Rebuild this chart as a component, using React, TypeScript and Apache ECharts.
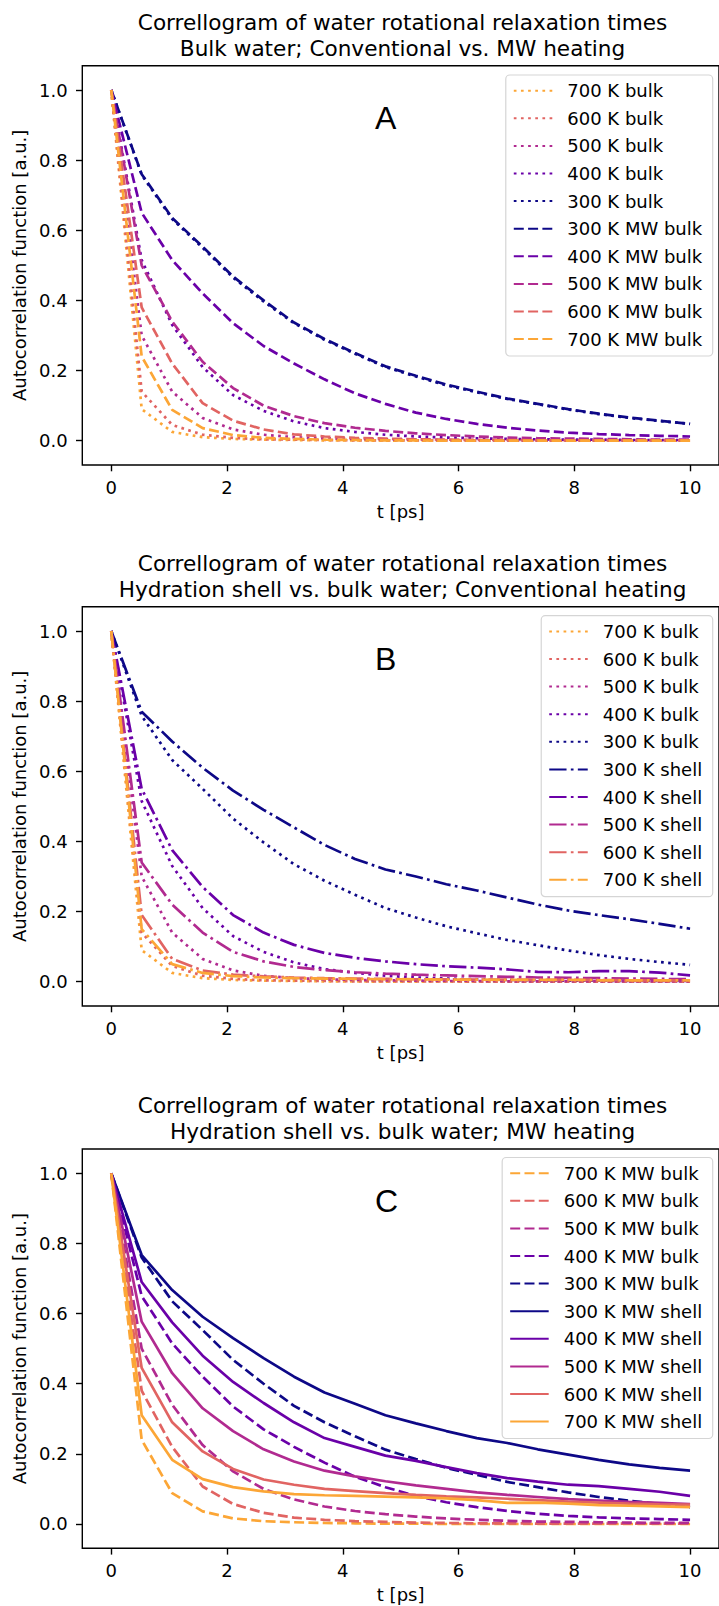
import React, { useEffect, useRef } from "react";
import * as echarts from "echarts";

// time points (ps)
const T = [0, 0.526, 1.053, 1.579, 2.105, 2.632, 3.158, 3.684, 4.211, 4.737, 5.263, 5.789, 6.316, 6.842, 7.368, 7.895, 8.421, 8.947, 9.474, 10];

// conventional heating, bulk water
const bulk300 = [1, 0.758, 0.632, 0.55, 0.465, 0.397, 0.335, 0.288, 0.248, 0.21, 0.183, 0.158, 0.138, 0.119, 0.104, 0.089, 0.076, 0.065, 0.056, 0.048];
const bulk400 = [1, 0.515, 0.33, 0.21, 0.13, 0.085, 0.055, 0.036, 0.025, 0.017, 0.012, 0.009, 0.007, 0.005, 0.004, 0.003, 0.003, 0.002, 0.002, 0.002];
const bulk500 = [1, 0.3, 0.14, 0.065, 0.032, 0.017, 0.01, 0.007, 0.005, 0.004, 0.003, 0.002, 0.002, 0.001, 0.001, 0.001, 0.001, 0.001, 0.001, 0.001];
const bulk600 = [1, 0.14, 0.045, 0.017, 0.008, 0.004, 0.003, 0.002, 0.001, 0.001, 0.001, 0.001, 0, 0, 0, 0, 0, 0, 0, 0];
const bulk700 = [1, 0.09, 0.025, 0.01, 0.005, 0.003, 0.002, 0.001, 0.001, 0, 0, 0, 0, 0, 0, 0, 0, 0, 0, 0];

// MW heating, bulk water
const mwBulk300 = [1, 0.76, 0.635, 0.553, 0.468, 0.4, 0.337, 0.29, 0.25, 0.212, 0.185, 0.16, 0.14, 0.12, 0.105, 0.09, 0.077, 0.066, 0.057, 0.048];
const mwBulk400 = [1, 0.65, 0.515, 0.42, 0.335, 0.27, 0.22, 0.175, 0.135, 0.105, 0.08, 0.062, 0.048, 0.037, 0.029, 0.023, 0.019, 0.016, 0.014, 0.012];
const mwBulk500 = [1, 0.5, 0.34, 0.225, 0.15, 0.1, 0.07, 0.05, 0.037, 0.028, 0.021, 0.016, 0.012, 0.009, 0.007, 0.006, 0.005, 0.004, 0.003, 0.003];
const mwBulk600 = [1, 0.38, 0.22, 0.107, 0.057, 0.032, 0.018, 0.012, 0.008, 0.006, 0.004, 0.003, 0.002, 0.002, 0.001, 0.001, 0.001, 0.001, 0.001, 0.001];
const mwBulk700 = [1, 0.24, 0.088, 0.036, 0.016, 0.008, 0.005, 0.003, 0.002, 0.001, 0.001, 0, 0, 0, 0, 0, 0, 0, 0, 0];

// conventional heating, hydration shell
const shell300 = [1, 0.77, 0.685, 0.61, 0.545, 0.49, 0.44, 0.39, 0.35, 0.32, 0.3, 0.278, 0.26, 0.24, 0.22, 0.203, 0.19, 0.178, 0.165, 0.151];
const shell400 = [1, 0.55, 0.375, 0.27, 0.19, 0.14, 0.105, 0.082, 0.068, 0.058, 0.05, 0.044, 0.04, 0.035, 0.028, 0.027, 0.03, 0.03, 0.026, 0.018];
const shell500 = [1, 0.34, 0.22, 0.14, 0.085, 0.058, 0.042, 0.033, 0.027, 0.023, 0.02, 0.018, 0.016, 0.014, 0.012, 0.011, 0.01, 0.009, 0.008, 0.007];
const shell600 = [1, 0.19, 0.065, 0.032, 0.02, 0.015, 0.012, 0.01, 0.009, 0.008, 0.007, 0.007, 0.006, 0.006, 0.005, 0.005, 0.005, 0.004, 0.004, 0.004];
const shell700 = [1, 0.15, 0.05, 0.025, 0.016, 0.012, 0.01, 0.009, 0.008, 0.007, 0.007, 0.006, 0.006, 0.005, 0.005, 0.005, 0.004, 0.004, 0.004, 0.004];

// MW heating, hydration shell
const mwShell300 = [1, 0.767, 0.667, 0.591, 0.53, 0.473, 0.42, 0.375, 0.343, 0.31, 0.287, 0.265, 0.245, 0.231, 0.213, 0.198, 0.183, 0.17, 0.16, 0.152];
const mwShell400 = [1, 0.69, 0.575, 0.48, 0.405, 0.345, 0.29, 0.245, 0.22, 0.195, 0.18, 0.162, 0.145, 0.131, 0.121, 0.112, 0.108, 0.1, 0.092, 0.08];
const mwShell500 = [1, 0.577, 0.43, 0.33, 0.265, 0.213, 0.178, 0.152, 0.136, 0.122, 0.11, 0.1, 0.09, 0.083, 0.077, 0.071, 0.067, 0.063, 0.06, 0.057];
const mwShell600 = [1, 0.445, 0.29, 0.207, 0.157, 0.127, 0.112, 0.1, 0.094, 0.088, 0.083, 0.079, 0.076, 0.072, 0.068, 0.064, 0.061, 0.058, 0.056, 0.055];
const mwShell700 = [1, 0.31, 0.183, 0.128, 0.105, 0.093, 0.085, 0.082, 0.08, 0.078, 0.076, 0.073, 0.068, 0.06, 0.061, 0.058, 0.054, 0.052, 0.05, 0.048];

const X_TICKS = [0, 2, 4, 6, 8, 10];
const Y_TICKS = [0, 0.2, 0.4, 0.6, 0.8, 1.0];

const TITLE_1 = "Correllogram of water rotational relaxation times";
const SUBTITLES = [
  "Bulk water; Conventional vs. MW heating",
  "Hydration shell vs. bulk water; Conventional heating",
  "Hydration shell vs. bulk water; MW heating",
];
const LETTERS = ["A", "B", "C"];

// styles
const COL = { 300: "#0d0887", 400: "#6a00a8", 500: "#b12a90", 600: "#e16462", 700: "#fca636" };
const LW = 2.7;
const DOT = [2.7, 4.46];
const DASH = [10, 4.3];
const DASHDOT = [17.3, 4.3, 2.7, 4.3];
const FONT = "'DejaVu Sans', sans-serif";

// layout
const GRID_LEFT = 82.3;
const GRID_W = 640.5;
const GRID_H = 399.3;
const GRID_TOPS = [65.7, 606.7, 1149];
const LEGEND_TOPS = [75, 615.7, 1157.5];

type Spec = [string, number[], string, any];

const PANELS: Spec[][] = [
  [
    ["700 K bulk", bulk700, COL[700], DOT],
    ["600 K bulk", bulk600, COL[600], DOT],
    ["500 K bulk", bulk500, COL[500], DOT],
    ["400 K bulk", bulk400, COL[400], DOT],
    ["300 K bulk", bulk300, COL[300], DOT],
    ["300 K MW bulk", mwBulk300, COL[300], DASH],
    ["400 K MW bulk", mwBulk400, COL[400], DASH],
    ["500 K MW bulk", mwBulk500, COL[500], DASH],
    ["600 K MW bulk", mwBulk600, COL[600], DASH],
    ["700 K MW bulk", mwBulk700, COL[700], DASH],
  ],
  [
    ["700 K bulk", bulk700, COL[700], DOT],
    ["600 K bulk", bulk600, COL[600], DOT],
    ["500 K bulk", bulk500, COL[500], DOT],
    ["400 K bulk", bulk400, COL[400], DOT],
    ["300 K bulk", bulk300, COL[300], DOT],
    ["300 K shell", shell300, COL[300], DASHDOT],
    ["400 K shell", shell400, COL[400], DASHDOT],
    ["500 K shell", shell500, COL[500], DASHDOT],
    ["600 K shell", shell600, COL[600], DASHDOT],
    ["700 K shell", shell700, COL[700], DASHDOT],
  ],
  [
    ["700 K MW bulk", mwBulk700, COL[700], DASH],
    ["600 K MW bulk", mwBulk600, COL[600], DASH],
    ["500 K MW bulk", mwBulk500, COL[500], DASH],
    ["400 K MW bulk", mwBulk400, COL[400], DASH],
    ["300 K MW bulk", mwBulk300, COL[300], DASH],
    ["300 K MW shell", mwShell300, COL[300], "solid"],
    ["400 K MW shell", mwShell400, COL[400], "solid"],
    ["500 K MW shell", mwShell500, COL[500], "solid"],
    ["600 K MW shell", mwShell600, COL[600], "solid"],
    ["700 K MW shell", mwShell700, COL[700], "solid"],
  ],
];

function buildOption() {
  const txt = { fontFamily: FONT, color: "#000", fontSize: 18 };
  const series: any[] = [];
  PANELS.forEach((specs, pi) => {
    specs.forEach(([name, vals, color, dash]) => {
      series.push({
        type: "line",
        name,
        xAxisIndex: pi,
        yAxisIndex: pi,
        data: T.map((t, i) => [t, vals[i]]),
        symbol: "none",
        showSymbol: false,
        silent: true,
        lineStyle: { color, width: LW, type: dash, cap: "butt" },
        itemStyle: { color },
        emphasis: { disabled: true },
      });
    });
  });
  return {
    animation: false,
    backgroundColor: "#fff",
    title: GRID_TOPS.map((top, i) => ({
      text: TITLE_1 + "\n" + SUBTITLES[i],
      left: GRID_LEFT + GRID_W / 2,
      top: top - 56.7,
      textAlign: "center",
      padding: 0,
      textStyle: { fontSize: 21.6, fontWeight: "normal", fontFamily: FONT, color: "#000", lineHeight: 26 },
    })),
    grid: GRID_TOPS.map((top) => ({
      left: GRID_LEFT,
      top,
      width: GRID_W,
      height: GRID_H,
      show: true,
      borderColor: "#000",
      borderWidth: 1.4,
      backgroundColor: "transparent",
    })),
    xAxis: GRID_TOPS.map((_, i) => ({
      type: "value",
      gridIndex: i,
      min: -0.5,
      max: 10.5,
      axisLine: { show: false, onZero: false },
      splitLine: { show: false },
      axisTick: { show: true, customValues: X_TICKS, length: 6.3, lineStyle: { color: "#000", width: 1.4 } },
      axisLabel: { customValues: X_TICKS, margin: 13, ...txt, lineHeight: 18, formatter: (v: number) => String(Math.round(v)) },
      name: "t [ps]",
      nameLocation: "middle",
      nameGap: 37.5,
      nameTextStyle: { ...txt, lineHeight: 18 },
    })),
    yAxis: GRID_TOPS.map((_, i) => ({
      type: "value",
      gridIndex: i,
      min: -0.0693,
      max: 1.0693,
      axisLine: { show: false, onZero: false },
      splitLine: { show: false },
      axisTick: { show: true, customValues: Y_TICKS, length: 6.3, lineStyle: { color: "#000", width: 1.4 } },
      axisLabel: { customValues: Y_TICKS, margin: 14.6, ...txt, formatter: (v: number) => v.toFixed(1) },
      name: "Autocorrelation function [a.u.]",
      nameLocation: "middle",
      nameRotate: 90,
      nameGap: 52,
      nameTextStyle: { ...txt, lineHeight: 18 },
    })),
    legend: PANELS.map((specs, i) => ({
      data: specs.map((s) => s[0]),
      orient: "vertical",
      right: 6.3,
      top: LEGEND_TOPS[i],
      itemWidth: 38.5,
      itemHeight: 14,
      itemGap: 9.6,
      padding: [6.7, 10.5, 7.9, 7],
      selectedMode: false,
      borderColor: "#d5d5d5",
      borderWidth: 1.2,
      borderRadius: 4,
      backgroundColor: "rgba(255,255,255,0.8)",
      itemStyle: { opacity: 0 },
      textStyle: { ...txt, lineHeight: 18, padding: [0, 0, 0, 10] },
    })),
    graphic: GRID_TOPS.map((top, i) => ({
      type: "text",
      x: 375,
      y: top + 63.3 - 11.1,
      silent: true,
      style: {
        text: LETTERS[i],
        fontSize: 32,
        fontFamily: "'Liberation Sans', Arial, sans-serif",
        fill: "#000",
        verticalAlign: "middle",
        align: "left",
      },
    })),
    series,
  };
}

export default function App() {
  const ref = useRef<HTMLDivElement>(null);
  useEffect(() => {
    if (!ref.current) return;
    const chart = echarts.init(ref.current, null, { renderer: "svg" });
    chart.setOption(buildOption() as any);
    return () => chart.dispose();
  }, []);
  return (
    <div
      ref={ref}
      style={{ position: "absolute", left: 0, top: 0, width: 719, height: 1606, background: "#fff" }}
    />
  );
}
